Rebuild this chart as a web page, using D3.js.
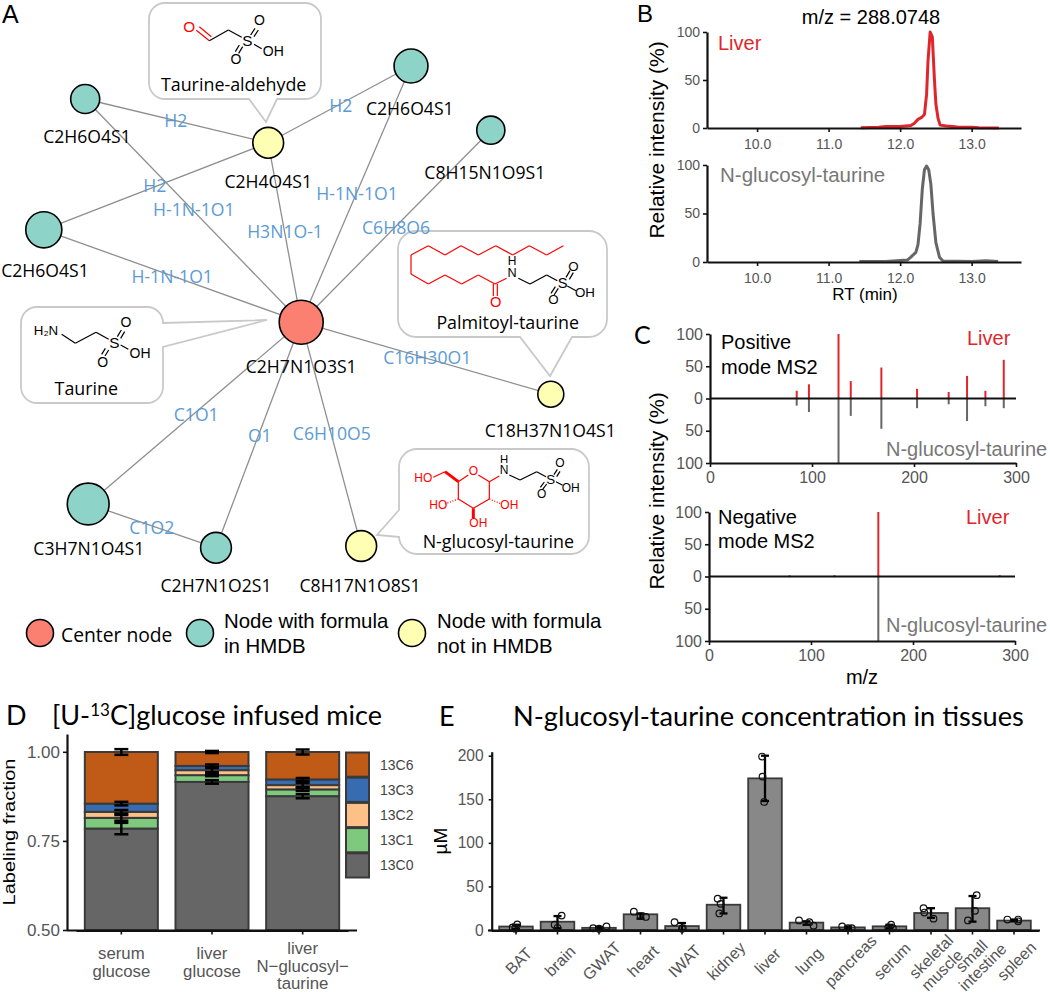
<!DOCTYPE html>
<html><head><meta charset="utf-8">
<script src="https://cdn.jsdelivr.net/npm/d3@7"></script>
<style>
html,body{margin:0;padding:0;background:#fff}
svg{display:block}
text{font-family:"Liberation Sans",Arial,sans-serif}
.cal{font-family:"Open Sans",sans-serif}
.lato{font-family:Lato,sans-serif}
.axis path,.axis line{stroke:#111}
</style></head><body>
<script>
// ---------- Panel A: network (layout units 0-1000) ----------
const nodeNames=["C2H7N1O3S1","C2H6O4S1","C2H4O4S1","C2H6O4S1","C2H6O4S1","C8H15N1O9S1","C18H37N1O4S1","C8H17N1O8S1","C2H7N1O2S1","C3H7N1O4S1"];
const nodeLayoutX=[502,142,447,73,685,818,918,602,360,147];
const nodeLayoutY=[537,165,238,383,110,217,657,910,913,840];
const nodeSize=[100,66,70,82,77,64,59,70,70,95];
const nodeKind=["center","hmdb","new","hmdb","hmdb","hmdb","new","new","hmdb","hmdb"];
const edgeSource=[1,3,4,1,3,2,4,5,6,7,8,9,9];
const edgeTarget=[2,2,2,0,0,0,0,0,0,0,0,0,8];
const edgeNames=["H2","H2","H2","H-1N-1O1","H-1N-1O1","H3N1O-1","H-1N-1O1","C6H8O6","C16H30O1","C6H10O5","O1","C1O1","C1O2"];
const edgeLabelX=[293,258,568,323,287,475,595,660,712,553,433,327,253];
const edgeLabelY=[200,308,175,348,460,385,322,378,595,722,725,690,878];
const nodeLabelX=[502,145,447,75,683,808,917,600,360,148];
const nodeLabelY=[610,227,302,450,180,287,717,975,975,913];
const legendNames=[["Center node"],["Node with formula","in HMDB"],["Node with formula","not in HMDB"]];
const legendKinds=["center","hmdb","new"];
// ---------- Panel B: chromatograms ----------
const rtLiver=[11.45,11.7,11.8,12.0,12.15,12.2,12.25,12.3,12.34,12.37,12.39,12.42,12.45,12.48,12.5,12.53,12.56,12.65,12.8,13.0,13.1,13.38];
const intLiver=[0.3,0.8,1.5,1.5,2.5,5,9,11,14,35,70,100,95,50,25,10,3,2,1,0.8,0.3,0];
const rtStd=[11.43,11.8,12.0,12.1,12.15,12.22,12.25,12.28,12.31,12.34,12.37,12.4,12.43,12.46,12.5,12.55,12.6,13.0,13.2,13.37];
const intStd=[0.5,0.5,1.5,2,5,10,18,40,75,95,99,95,80,50,20,5,1,0.6,1.2,0.5];
const rtTicks=[10,11,12,13];
// ---------- Panel C: MS2 ----------
const posMz=[85,97,126,138,168,203,234,252,270,288];
const posLiver=[12,22,100,27,48,15,10,35,12,60];
const posStd=[11,21,100,27,47,15,9,35,12,15];
const negMz=[79,123,166,285];
const negLiver=[2,2,100,2];
const negStd=[1,1,100,1];
const mzTicks=[0,100,200,300];
const msYTicks=[-100,-50,0,50,100];
// ---------- Panel D: labeling ----------
const sampleLabels=[["serum","glucose"],["liver","glucose"],["liver","N\u2212glucosyl\u2212","taurine"]];
const isoNames=["13C0","13C1","13C2","13C3","13C6"];
const isoColors=["#666666","#7FC97F","#FDC086","#386CB0","#BF5B17"];
const iso0=[0.785,0.916,0.876];
const iso1=[0.030,0.019,0.019];
const iso2=[0.017,0.014,0.012];
const iso3=[0.023,0.012,0.016];
const iso6=[0.145,0.039,0.077];
const isoErr=[[0.016,0.005,0.006],[0.008,0.003,0.004],[0.005,0.006,0.006],[0.005,0.004,0.004],[0.008,0.003,0.007]];
// ---------- Panel E: tissues ----------
const tissues=["BAT","brain","GWAT","heart","IWAT","kidney","liver","lung","pancreas","serum","skeletal\nmuscle","small\nintestine","spleen"];
const tissueMean=[4,9.5,2.5,18,4.5,29,174,8.5,3,4.2,19.5,25,10.8];
const tissueLow=[1,2,1.5,13,0,19,148,6,1.5,2,14,9.6,10];
const tissueHigh=[6,16,3.5,19,8,37,200,10,4,6,25,39,12];
const tissuePoints=[[3,6.5,1.5],[16.5,6,2.5],[2,1.5,4],[21,16,15],[9,2,1.5],[36,30,19],[199,176,147],[11,9,5],[4,2,2],[6,3,2],[25,20,13],[40,22,11],[12,12,10]];
const pointJitter=[[-.08,.03,-.02],[.1,-.07,0],[-.14,0,.18],[-.16,0,.13],[-.18,.02,0],[-.14,-.07,-.1],[-.07,-.06,-.02],[-.18,.07,.17],[-.14,0,.09],[.04,-.03,.08],[-.18,-.16,.06],[.1,.06,-.11],[-.16,.1,.1]];
const concTicks=[0,50,100,150,200];

const svg=d3.select("body").append("svg").attr("width",1050).attr("height",996).attr("viewBox","0 0 1050 996");
const kindColor=d3.scaleOrdinal().domain(["center","hmdb","new"]).range(["#FB8072","#8DD3C7","#FFFFB3"]);
function letter(t,x,y,fs,cls){const e=svg.append("text").attr("x",x).attr("y",y).attr("font-size",fs).attr("fill","#000").text(t);if(cls)e.attr("class",cls);}
letter("A",2,23,25);letter("B",637,22,24);letter("C",634,344,25,"lato");letter("D",6,725,27,"lato");letter("E",439,726,27,"lato");

// ---- A
const lx=d3.scaleLinear().domain([0,1000]).range([0,600]);
const ly=d3.scaleLinear().domain([0,1000]).range([0,600]);
const lr=d3.scaleLinear().domain([0,100]).range([0,22]);
const A=svg.append("g");
A.selectAll("line.e").data(edgeSource).join("line").attr("class","e")
 .attr("x1",d=>lx(nodeLayoutX[d])).attr("y1",d=>ly(nodeLayoutY[d]))
 .attr("x2",(d,i)=>lx(nodeLayoutX[edgeTarget[i]])).attr("y2",(d,i)=>ly(nodeLayoutY[edgeTarget[i]]))
 .attr("stroke","#8f8f8f").attr("stroke-width",1.3);
A.selectAll("circle.n").data(nodeNames).join("circle").attr("class","n")
 .attr("cx",(d,i)=>lx(nodeLayoutX[i])).attr("cy",(d,i)=>ly(nodeLayoutY[i])).attr("r",(d,i)=>lr(nodeSize[i]))
 .attr("fill",(d,i)=>kindColor(nodeKind[i])).attr("stroke","#000").attr("stroke-width",1.6);
A.selectAll("text.nl").data(nodeNames).join("text").attr("class","nl cal")
 .attr("x",(d,i)=>lx(nodeLabelX[i])).attr("y",(d,i)=>ly(nodeLabelY[i])).attr("text-anchor","middle").attr("dominant-baseline","central")
 .attr("font-size",17.6).attr("fill","#000").text(d=>d);

function callout(pts,r){
  const p=d3.path(),n=pts.length;
  const mid=(a,b)=>[(a[0]+b[0])/2,(a[1]+b[1])/2];
  const s=mid(pts[n-1],pts[0]);p.moveTo(s[0],s[1]);
  pts.forEach((c,i)=>{const nx=pts[(i+1)%n];
    if(c[2]){const m=mid(c,nx);p.arcTo(c[0],c[1],m[0],m[1],r);}
    else {p.lineTo(c[0],c[1]);}
  });p.closePath();
  A.append("path").attr("d",p.toString()).attr("fill","#fff").attr("stroke","#c9c9c9").attr("stroke-width",1.8);
}
callout([[149,3,1],[321,3,1],[321,99,1],[277,99],[266,122],[249,99],[149,99,1]],16);
callout([[21,307,1],[163,307,1],[163,323],[267,320],[163,347],[163,403,1],[21,403,1]],16);
callout([[398,231,1],[607,231,1],[607,337,1],[572,337],[550,376],[520,337],[398,337,1]],18);
callout([[399,449,1],[589,449,1],[589,554,1],[399,554,1],[399,537],[377,535],[399,510]],18);

A.selectAll("text.el").data(edgeNames).join("text").attr("class","el cal")
 .attr("x",(d,i)=>lx(edgeLabelX[i])).attr("y",(d,i)=>ly(edgeLabelY[i])).attr("text-anchor","middle").attr("dominant-baseline","central")
 .attr("font-size",17.6).attr("fill","#5B9BD5").text(d=>d);

function mol(tx,ty,bonds,atoms,cap){
  const g=A.append("g").attr("transform",`translate(${tx},${ty}) scale(${1/3})`);
  bonds.forEach(b=>{g.append("line").attr("x1",b[0]).attr("y1",b[1]).attr("x2",b[2]).attr("y2",b[3])
    .attr("stroke",b[4]||"#000").attr("stroke-width",b[5]||3.6).attr("stroke-dasharray",b[6]||null);});
  atoms.forEach(a=>{g.append("text").attr("x",a[0]).attr("y",a[1]).attr("text-anchor","middle").attr("dominant-baseline","central")
    .attr("font-size",a[3]||42).attr("fill",a[4]||"#000").text(a[2]);});
  g.append("text").attr("class","cal").attr("x",cap[0]).attr("y",cap[1]).attr("text-anchor","middle").attr("dominant-baseline","central").attr("font-size",cap[3]||53.6).attr("fill","#000").text(cap[2]);
}
const R="#f00";
mol(0,0,[[589,91,628,122,R],[598,80,634,110,R],[628,122,685,90],[685,90,725,112],[752,105,765,85],[762,110,775,90],[728,140,716,160],[718,135,706,155],[762,133,785,146]],
 [[568,78,"O",46,R],[742,120,"S",46],[778,60,"O",42],[708,178,"O",42],[820,153,"OH",42]],[701,253,"Taurine-aldehyde"]);
mol(0,300,[[185,103,226,130],[226,130,288,97],[288,97,326,118],[352,110,364,90],[362,115,374,95],[326,150,315,168],[316,145,305,163],[362,135,385,148]],
 [[138,90,"H\u2082N",40],[343,127,"S",46],[378,65,"O",42],[308,185,"O",42],[420,160,"OH",42]],[259,265,"Taurine"]);
mol(330,200,[[700,137,650,165,R],[650,165,598,137,R],[598,137,548,165,R],[548,165,497,137,R],[497,137,445,165,R],[445,165,393,137,R],[393,137,345,165,R],[345,165,295,137,R],[295,137,243,165,R],[243,165,243,222,R],[243,222,295,252,R],[295,252,345,225,R],[345,225,395,252,R],[395,252,445,225,R],[445,225,495,252,R],[495,252,530,235,R],[490,252,490,288,R],[502,252,502,288,R],[565,235,600,252],[600,252,650,225],[650,225,682,242],[708,232,720,212],[718,238,730,218],[685,265,672,285],[676,260,663,280],[712,258,738,272]],
 [[546,218,"N",38],[546,183,"H",36],[497,306,"O",44,R],[698,250,"S",44],[730,198,"O",40],[670,298,"O",40],[765,278,"OH",40]],[533,365,"Palmitoyl-taurine"]);
mol(330,200,[[385,845,415,825,R],[445,825,478,845,R],[478,845,478,897,R],[478,897,430,925,R],[430,925,385,897,R],[385,897,385,845,R],[385,845,345,815,R,9],[345,815,310,832,R],[385,897,345,912,R,4,"3 5"],[478,897,515,912,R,4,"3 5"],[430,925,430,955,R,9],[478,845,508,828,R],[538,825,570,840],[570,840,620,815],[620,815,648,830],[672,824,682,808],[680,830,690,814],[650,852,638,868],[643,846,631,862],[678,845,698,856]],
 [[430,812,"O",36,R],[280,835,"HO",36,R],[325,915,"HO",36,R],[538,915,"OH",36,R],[445,968,"OH",36,R],[522,810,"N",36],[522,778,"H",34],[662,838,"S",40],[690,790,"O",36],[635,882,"O",36],[722,863,"OH",36]],[505,1022,"N-glucosyl-taurine"]);

const legG=A.append("g");
const legCx=[40,200,412],legTx=[61,224,437];
legendKinds.forEach((k,i)=>{
 legG.append("circle").attr("cx",legCx[i]).attr("cy",633).attr("r",13.5).attr("fill",kindColor(k)).attr("stroke","#000").attr("stroke-width",1.6);
 const ln=legendNames[i];
 ln.forEach((t,j)=>{const e=legG.append("text").attr("x",legTx[i]).attr("y",ln.length==1?634:621+24.5*j).attr("dominant-baseline","central").attr("font-size",ln.length==1?19.3:20.4).attr("fill","#000").text(t);
   if(ln.length==1)e.attr("class","cal");});
});

// helpers
function styleAxis(g,sw,fs,col){
  g.attr("class","axis");g.select(".domain").attr("stroke","#111").attr("stroke-width",sw);
  g.selectAll(".tick line").attr("stroke","#222").attr("stroke-width",1.6);
  g.selectAll("text").attr("font-size",fs).attr("fill",col||"#555").attr("font-family",'"Liberation Sans",Arial,sans-serif');
}
function label(t,x,y,fs,fill,anchor,rot,cls){
  const e=svg.append("text").attr("text-anchor",anchor||"start").attr("font-size",fs).attr("fill",fill||"#000").text(t);
  if(cls)e.attr("class",cls);
  if(rot)e.attr("transform",`translate(${x},${y}) rotate(${rot})`);else e.attr("x",x).attr("y",y);
  return e;
}
// ---- B
const bx=d3.scaleLinear().domain([9.3,13.69]).range([707,1021]);
function chrom(rt,inten,col,top,bot){
  const y=d3.scaleLinear().domain([0,100]).range([bot,top]);
  const ln=d3.line().x((d,i)=>bx(rt[i])).y(d=>y(d));
  svg.append("path").datum(inten).attr("d",ln).attr("fill","none").attr("stroke",col).attr("stroke-width",3).attr("stroke-linejoin","round");
  styleAxis(svg.append("g").attr("transform",`translate(0,${bot})`).call(d3.axisBottom(bx).tickValues(rtTicks).tickSize(4).tickPadding(7).tickSizeOuter(0)),2.2,14);
  styleAxis(svg.append("g").attr("transform","translate(707,0)").call(d3.axisLeft(y).tickValues([0,50,100]).tickSize(4).tickPadding(3).tickSizeOuter(0)),2.2,14);
}
chrom(rtLiver,intLiver,"#E0262A",32,128);
chrom(rtStd,intStd,"#666666",165,262);
label("m/z = 288.0748",871,24,20,"#000","middle");
label("Liver",718,50,20,"#E0262A");
label("N-glucosyl-taurine",720,182,20.5,"#777");
label("Relative intensity (%)",664,140,21,"#000","middle",-90);
label("RT (min)",865,300,17,"#000","middle");
// ---- C
function ms2(mz,a,b,top,mid,bot,x0){
  const mx=d3.scaleLinear().domain([0,300]).range([x0,x0+306]);
  const y=d3.scaleLinear().domain([-100,100]).range([bot,top]);
  svg.selectAll(null).data(mz).join("line").attr("x1",d=>mx(d)).attr("x2",d=>mx(d)).attr("y1",y(0)).attr("y2",(d,i)=>y(a[i])).attr("stroke","#E0262A").attr("stroke-width",2);
  svg.selectAll(null).data(mz).join("line").attr("x1",d=>mx(d)).attr("x2",d=>mx(d)).attr("y1",y(0)).attr("y2",(d,i)=>y(-b[i])).attr("stroke","#666").attr("stroke-width",2);
  svg.append("line").attr("x1",mx(0)).attr("x2",mx(300)).attr("y1",y(0)).attr("y2",y(0)).attr("stroke","#111").attr("stroke-width",2);
  styleAxis(svg.append("g").attr("transform",`translate(0,${bot})`).call(d3.axisBottom(mx).tickValues(mzTicks).tickSize(4).tickPadding(5).tickSizeOuter(0)),2.2,16);
  styleAxis(svg.append("g").attr("transform",`translate(${x0},0)`).call(d3.axisLeft(y).tickValues(msYTicks).tickFormat(Math.abs).tickSize(4).tickPadding(3).tickSizeOuter(0)),2.2,16);
}
ms2(posMz,posLiver,posStd,334,399,463,710);
ms2(negMz,negLiver,negStd,512,576,641,709);
label("Positive",721,349,20);label("mode MS2",721,374,20);
label("Negative",718,524,20);label("mode MS2",718,548,20);
label("Liver",967,345,20,"#E0262A");label("Liver",966,524,20,"#E0262A");
label("N-glucosyl-taurine",886,456,20,"#777");label("N-glucosyl-taurine",886,632,20,"#777");
label("Relative intensity (%)",664,491,21,"#000","middle",-90);
label("m/z",862,684,20,"#000","middle");
// ---- D
const dx=d3.scaleBand().domain(d3.range(3)).range([76,348]).padding(0);
const dy=d3.scaleLinear().domain([0.5,1]).range([930,752]);
const isoValues=[iso0,iso1,iso2,iso3,iso6];
const barW=73;
d3.range(3).forEach(s=>{
  let cum=0;const cx=dx(s)+dx.bandwidth()/2;
  isoValues.forEach((arr,k)=>{
    const lo=cum;cum+=arr[s];
    svg.append("rect").attr("x",cx-barW/2).attr("width",barW).attr("y",dy(cum)).attr("height",dy(Math.max(lo,0.5))-dy(cum))
      .attr("fill",isoColors[k]).attr("stroke","#3a3a3a").attr("stroke-width",2);
  });
});
d3.range(3).forEach(s=>{
  let cum=0;const cx=dx(s)+dx.bandwidth()/2;
  isoValues.forEach((arr,k)=>{
    cum+=arr[s];const e=isoErr[k][s],a=dy(cum+e),b=dy(cum-e);
    const g=svg.append("g").attr("stroke","#000").attr("stroke-width",2.5);
    g.append("line").attr("x1",cx).attr("x2",cx).attr("y1",a).attr("y2",b);
    g.append("line").attr("x1",cx-7).attr("x2",cx+7).attr("y1",a).attr("y2",a);
    g.append("line").attr("x1",cx-7).attr("x2",cx+7).attr("y1",b).attr("y2",b);
  });
});
const dAx=svg.append("g").attr("transform","translate(67,0)").call(d3.axisLeft(d3.scaleLinear().domain([0.5,1.05]).range([930,734])).tickValues([0.5,0.75,1]).tickFormat(d3.format(".2f")).tickSize(4).tickPadding(3).tickSizeOuter(0));
styleAxis(dAx,2.2,17);
const dxAx=svg.append("g").attr("transform","translate(0,930.5)").call(d3.axisBottom(dx).tickFormat("").tickSize(4).tickSizeOuter(0));
styleAxis(dxAx,2.2,14);
svg.append("line").attr("x1",67).attr("x2",357).attr("y1",930.5).attr("y2",930.5).attr("stroke","#111").attr("stroke-width",2.2);
const catLineY=[[953,971],[953,971],[948,966,983]];
sampleLabels.forEach((ls,s)=>ls.forEach((t,j)=>label(t,dx(s)+dx.bandwidth()/2,catLineY[s][j]+6,16.8,"#555","middle")));
const legY=d3.scaleBand().domain(["13C6","13C3","13C2","13C1","13C0"]).range([752,878]);
isoNames.forEach((n,k)=>{
  svg.append("rect").attr("x",346).attr("width",23).attr("y",legY(n)+0.5).attr("height",legY.bandwidth()-1).attr("fill",isoColors[k]).attr("stroke","#3a3a3a").attr("stroke-width",2);
  label(n,380,legY(n)+legY.bandwidth()/2+5,14,"#444");
});
svg.append("text").attr("transform","translate(15,832) rotate(-90) scale(1,0.8)").attr("text-anchor","middle").attr("font-size",20).attr("fill","#000").text("Labeling fraction");
const dt=svg.append("text").attr("class","lato").attr("x",52).attr("y",725).attr("font-size",27).attr("fill","#000");
dt.append("tspan").text("[U-");dt.append("tspan").attr("font-size",17).attr("dy",-9).text("13");dt.append("tspan").attr("dy",9).text("C]glucose infused mice");
// ---- E
const ex=d3.scaleBand().domain(tissues).range([491.3,1038.7]).padding(0.19);
const ey=d3.scaleLinear().domain([0,200]).range([930,755.7]);
svg.selectAll("rect.t").data(tissues).join("rect").attr("class","t").attr("x",d=>ex(d)).attr("width",ex.bandwidth())
  .attr("y",(d,i)=>ey(tissueMean[i])).attr("height",(d,i)=>ey(0)-ey(tissueMean[i])).attr("fill","#888").attr("stroke","#3a3a3a").attr("stroke-width",1.8);
tissues.forEach((t,i)=>{
  const cx=ex(t)+ex.bandwidth()/2,st=ex.step();
  const g=svg.append("g").attr("stroke","#000").attr("stroke-width",2.3);
  g.append("line").attr("x1",cx).attr("x2",cx).attr("y1",ey(tissueLow[i])).attr("y2",ey(tissueHigh[i]));
  [tissueLow[i],tissueHigh[i]].forEach(v=>g.append("line").attr("x1",cx-4).attr("x2",cx+4).attr("y1",ey(v)).attr("y2",ey(v)));
  tissuePoints[i].forEach((v,j)=>svg.append("circle").attr("cx",cx+pointJitter[i][j]*st).attr("cy",ey(v)).attr("r",3.3).attr("fill","none").attr("stroke","#111").attr("stroke-width",1.2));
});
const eAxX=svg.append("g").attr("transform","translate(0,930.5)").call(d3.axisBottom(ex).tickSize(4).tickSizeOuter(0).tickFormat(""));
styleAxis(eAxX,2.2,14);
svg.append("line").attr("x1",488).attr("x2",1040).attr("y1",930.5).attr("y2",930.5).attr("stroke","#111").attr("stroke-width",2.2);
styleAxis(svg.append("g").attr("transform","translate(491.7,0)").call(d3.axisLeft(d3.scaleLinear().domain([0,204.6]).range([930,751.7])).tickValues(concTicks).tickSize(3).tickPadding(5).tickSizeOuter(0)),2.2,15.6);
const labelShift={"skeletal":[4,960.5],"muscle":[15,974],"small":[3,960],"intestine":[14,971]};
tissues.forEach((t,i)=>{
  const cx=ex(t)+ex.bandwidth()/2;
  t.split("\n").forEach(p=>{
    const s=labelShift[p]||[6.5,965];
    svg.append("text").attr("transform",`translate(${cx+s[0]},${s[1]}) rotate(-45)`).attr("text-anchor","middle").attr("font-size",16).attr("fill","#555").text(p);
  });
});
label("\u00b5M",447,841,19,"#000","middle",-90);
label("N-glucosyl-taurine concentration in tissues",513,725.5,27.2,"#000","start",0,"lato");
</script></body></html>
